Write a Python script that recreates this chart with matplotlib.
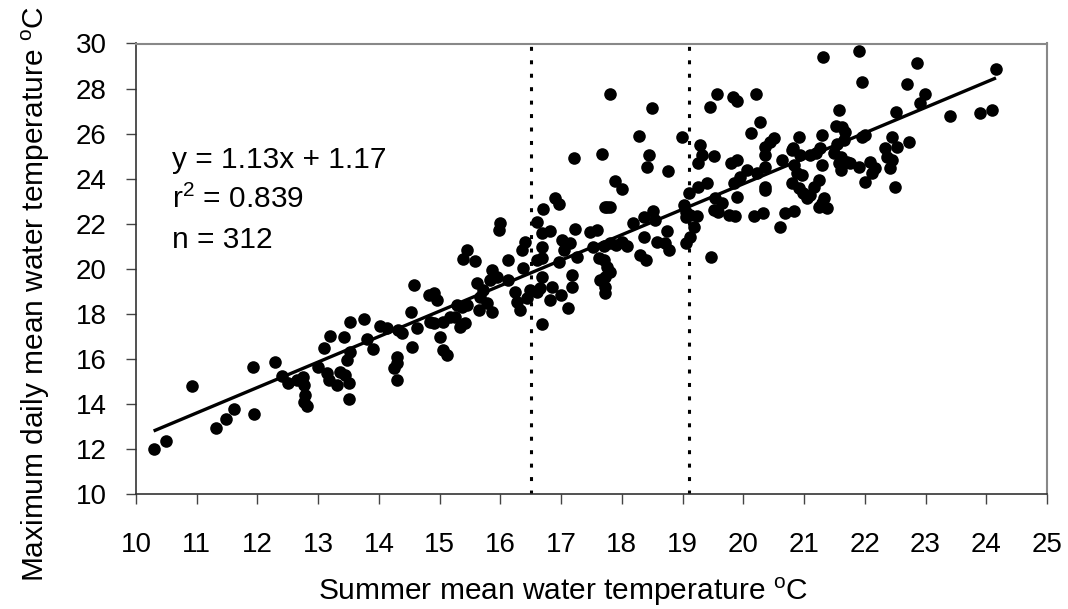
import matplotlib
matplotlib.use("Agg")
import matplotlib.pyplot as plt

plt.rcParams['font.family'] = ['Liberation Sans', 'DejaVu Sans']
plt.rcParams['mathtext.fontset'] = 'custom'
plt.rcParams['mathtext.rm'] = 'Liberation Sans'
plt.rcParams['mathtext.it'] = 'Liberation Sans:italic'
plt.rcParams['mathtext.bf'] = 'Liberation Sans:bold'

# Summer mean water temperature (x) and maximum daily mean water temperature (y)
summer_mean = [
    # 10-14.3
    10.29, 10.49, 10.93, 11.32, 11.48, 11.62, 11.95, 11.93, 12.29, 12.4,
    12.51, 12.65, 12.75, 12.76, 12.78, 12.76, 12.81, 13.0, 13.14, 13.17,
    13.31, 13.36, 13.44, 13.5, 13.5, 13.47, 13.53, 13.42, 13.2, 13.09,
    13.53, 13.76, 14.01, 14.13, 13.8, 13.91, 14.3, 14.3, 14.24, 14.3,
    14.32,
    # 14.3-16.5
    14.38, 14.57, 14.82, 14.9, 14.95, 14.53, 15.28, 15.37, 15.45, 15.26,
    15.34, 15.42, 15.17, 15.06, 14.9, 14.84, 15.01, 15.06, 15.12, 14.54,
    14.62, 15.45, 15.39, 15.58, 16.0, 15.97, 16.41, 16.35, 16.13, 16.38,
    15.86, 15.94, 16.13, 15.61, 15.72, 15.83, 15.67, 15.78, 15.86, 15.64,
    16.24, 16.27, 16.33, 16.44, 16.49,
    # 16.5-17.7
    16.9, 16.96, 16.7, 16.6, 17.73, 16.68, 16.82, 17.23, 17.48, 17.59,
    16.68, 16.68, 16.6, 17.01, 17.04, 17.15, 17.26, 16.96, 17.53, 17.62,
    16.68, 17.18, 17.18, 17.64, 17.73, 16.6, 16.66, 16.85, 16.82, 16.99,
    17.12, 16.68, 17.22,
    # 17.7-19.1
    17.67, 18.44, 18.41, 18.76, 17.89, 18.0, 17.75, 17.81, 18.19, 18.36,
    18.52, 18.55, 18.36, 18.74, 17.7, 17.8, 17.9, 18.0, 18.08, 18.3,
    18.39, 18.58, 18.71, 18.77, 17.7, 17.75, 17.81, 17.73, 17.73,
    19.02, 19.05, 19.1, 19.05, 17.8, 18.5, 18.28, 18.99,
    # 19.1-21.3
    19.13, 19.24, 19.18, 19.13, 19.06, 19.47, 19.26, 19.4, 19.54, 19.65,
    19.51, 19.59, 19.76, 19.87, 19.9, 19.29, 19.32, 19.26, 19.51, 19.79,
    19.9, 19.84, 19.95, 20.06, 20.23, 20.36, 20.36, 20.36, 20.36, 20.36,
    20.17, 20.33, 20.64, 20.8, 20.83, 20.94, 20.88, 20.97, 20.61, 20.69,
    20.83, 20.8, 20.91, 20.99, 21.05, 21.16, 21.24, 21.24, 21.19, 19.57,
    19.45, 19.83, 19.9, 20.21, 20.28, 20.13, 20.44, 20.5, 20.91, 20.82,
    # 21.1-24.2
    21.31, 21.9, 22.86, 24.16, 21.96, 22.7, 22.99, 22.91, 21.58, 22.51,
    23.41, 23.9, 24.1, 21.52, 21.63, 21.68, 21.29, 21.95, 22.01, 22.45,
    22.72, 21.54, 21.65, 21.27, 21.1, 21.49, 21.6, 21.57, 21.6, 21.71,
    21.76, 21.9, 21.3, 22.09, 22.12, 22.17, 22.01, 22.34, 22.53, 22.37,
    22.45, 22.42, 22.49, 21.1, 21.32, 21.3, 21.38,
]

max_daily = [
    # 10-14.3
    11.98, 12.37, 14.79, 12.92, 13.31, 13.77, 13.55, 15.62, 15.85, 15.24,
    14.91, 15.06, 15.21, 14.84, 14.39, 14.1, 13.92, 15.65, 15.36, 15.06,
    14.84, 15.43, 15.28, 14.91, 14.22, 15.95, 16.32, 16.98, 17.01, 16.49,
    17.65, 17.75, 17.46, 17.35, 16.88, 16.44, 16.09, 15.8, 15.58, 15.06,
    17.28,
    # 14.3-16.5
    17.13, 19.28, 18.83, 18.91, 18.61, 18.09, 18.39, 18.31, 18.39, 17.87,
    17.43, 17.58, 17.87, 17.65, 17.58, 17.65, 16.98, 16.39, 16.17, 16.54,
    17.35, 20.83, 20.42, 20.34, 22.05, 21.72, 21.2, 20.83, 20.39, 20.02,
    19.94, 19.65, 19.5, 19.35, 19.05, 19.5, 18.76, 18.46, 18.09, 18.17,
    18.98, 18.54, 18.17, 18.69, 19.05,
    # 16.5-17.7
    23.12, 22.87, 22.64, 22.09, 22.73, 21.57, 21.69, 21.75, 21.64, 21.72,
    20.98, 20.46, 20.39, 21.27, 20.83, 21.13, 20.53, 20.31, 20.98, 20.46,
    19.65, 19.72, 19.2, 19.5, 18.91, 18.98, 19.13, 19.2, 18.61, 18.83,
    18.24, 17.55, 24.9,
    # 17.7-19.1
    25.09, 25.05, 24.5, 24.36, 23.9, 23.52, 22.75, 22.72, 22.01, 22.28,
    22.57, 22.16, 21.42, 21.69, 21.0, 21.15, 21.05, 21.2, 21.0, 20.61,
    20.39, 21.2, 21.13, 20.83, 20.39, 20.09, 19.87, 19.65, 19.2,
    22.83, 22.53, 23.35, 22.31, 27.75, 27.12, 25.89, 25.83,
    # 19.1-21.3
    22.4, 22.34, 21.84, 21.42, 21.15, 20.53, 23.64, 23.79, 23.12, 22.9,
    22.6, 22.53, 22.38, 22.34, 23.2, 25.49, 25.05, 24.68, 25.0, 24.68,
    24.82, 23.79, 24.08, 24.38, 24.23, 25.41, 25.05, 24.53, 23.64, 23.49,
    22.34, 22.49, 24.82, 25.27, 24.6, 25.05, 24.23, 24.16, 21.84, 22.49,
    22.57, 23.79, 23.57, 23.35, 23.12, 23.64, 23.94, 22.75, 25.12, 27.75,
    27.19, 27.63, 27.46, 27.75, 26.5, 26.01, 25.64, 25.79, 25.83, 25.34,
    # 21.1-24.2
    29.38, 29.68, 29.14, 28.85, 28.27, 28.18, 27.74, 27.34, 27.04, 26.97,
    26.78, 26.9, 27.04, 26.33, 26.28, 26.08, 25.93, 25.86, 25.93, 25.86,
    25.64, 25.56, 25.71, 25.34, 25.05, 25.12, 24.97, 24.68, 24.38, 24.75,
    24.68, 24.53, 24.6, 24.75, 24.23, 24.46, 23.86, 25.34, 25.41, 24.97,
    24.82, 24.46, 23.64, 23.27, 23.12, 22.9, 22.68,
]

slope = 1.13
intercept = 1.17
r_squared = 0.839
n_obs = 312
threshold_lines = [16.5, 19.1]
x_ticks = list(range(10, 26))
y_ticks = list(range(10, 31, 2))

W, H = 1068, 609
fig = plt.figure(figsize=(W / 100, H / 100), dpi=100)
ax = fig.add_axes([136 / W, 1 - 494 / H, (1047 - 136) / W, (494 - 43.5) / H])

ax.scatter(summer_mean, max_daily, s=82, color='black', linewidths=0, zorder=3)

x0, x1 = min(summer_mean), max(summer_mean)
ax.plot([x0, x1], [slope * x0 + intercept, slope * x1 + intercept],
        color='black', lw=2.4, solid_capstyle='butt', zorder=4)

for xv in threshold_lines:
    ax.plot([xv, xv], [10, 30], color='black', lw=2.2,
            linestyle=(0, (1.3, 3.1)), zorder=2)

ax.set_xlim(10, 25)
ax.set_ylim(10, 30)
ax.set_xticks(x_ticks)
ax.set_yticks(y_ticks)
ax.tick_params(axis='both', direction='out', length=7, width=1.0,
               colors='#444444', labelcolor='black', labelsize=20)
ax.tick_params(axis='x', pad=20)
ax.tick_params(axis='y', pad=14)

for side in ['left', 'bottom']:
    ax.spines[side].set_color('#333333')
    ax.spines[side].set_linewidth(1.2)
for side in ['top', 'right']:
    ax.spines[side].set_color('#888888')
    ax.spines[side].set_linewidth(1.5)

label_fs = 21.5
fig.text(563 / W, 1 - 600 / H, r'Summer mean water temperature $^{\mathrm{o}}$C',
         ha='center', va='baseline', fontsize=label_fs)
fig.text(44 / W, 1 - 294 / H, r'Maximum daily mean water temperature $^{\mathrm{o}}$C',
         ha='center', va='baseline', rotation=90, rotation_mode='anchor', fontsize=label_fs)

eq_x = 172 / W
fig.text(eq_x, 1 - 168 / H, f'y = {slope:.2f}x + {intercept:.2f}', fontsize=label_fs, va='baseline')
fig.text(eq_x, 1 - 208 / H, r'r$^{2}$ = ' + f'{r_squared:.3f}', fontsize=label_fs, va='baseline')
fig.text(eq_x, 1 - 248 / H, f'n = {n_obs}', fontsize=label_fs, va='baseline')

fig.savefig('out.png', dpi=100)
